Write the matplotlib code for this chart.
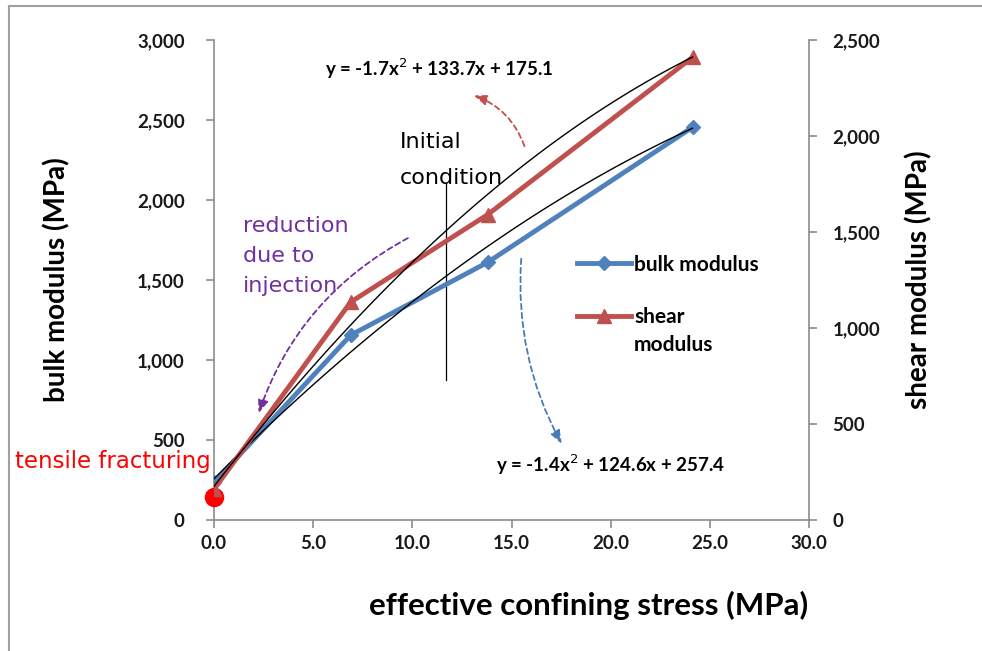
import numpy as np
import matplotlib
matplotlib.use("Agg")
from matplotlib import pyplot as plt
from matplotlib.lines import Line2D
from matplotlib.ticker import FuncFormatter

plt.rcParams["font.family"] = ["Lato", "DejaVu Sans"]

# data
stress = [0.0, 6.89, 13.79, 24.13]          # MPa
bulk = [235, 1155, 1610, 2455]              # MPa, left axis
shear = [160, 1135, 1590, 2410]             # MPa, right axis
bulk_fit = [-1.4, 124.6, 257.4]             # trendline coefficients
shear_fit = [-1.7, 133.7, 175.1]
frac_point = [0.0, 143]                     # tensile fracturing marker (left axis)

blue = "#4F81BD"
red = "#C0504D"
purple = "#7030A0"
gray = "#8C8C8C"
note_font = "DejaVu Sans"

fig = plt.figure(figsize=(9.82, 6.51), dpi=100)
ax = fig.add_axes([214/982, 1 - 520/651, 595/982, 480/651])
ax2 = ax.twinx()

# trendlines
xf = np.linspace(stress[0], stress[-1], 100)
ax.plot(xf, np.polyval(bulk_fit, xf), color="black", lw=1.0, zorder=4)
ax2.plot(xf, np.polyval(shear_fit, xf), color="black", lw=1.0, zorder=4)

# data series
ax.plot(stress, bulk, color=blue, lw=3.5, marker="D", ms=7, zorder=3)
ax2.plot(stress, shear, color=red, lw=3.5, marker="^", ms=10, zorder=3)
ax.plot(frac_point[0], frac_point[1], "o", color="red", ms=13, zorder=6, clip_on=False)

ax.set_xlim(0, 30)
ax.set_ylim(0, 3000)
ax2.set_ylim(0, 2500)
ax.set_xticks(np.arange(0, 31, 5))
ax.set_yticks(np.arange(0, 3001, 500))
ax2.set_yticks(np.arange(0, 2501, 500))
ax.xaxis.set_major_formatter(FuncFormatter(lambda v, p: f"{v:.1f}"))
ax.yaxis.set_major_formatter(FuncFormatter(lambda v, p: f"{v:,.0f}"))
ax2.yaxis.set_major_formatter(FuncFormatter(lambda v, p: f"{v:,.0f}"))

for a in (ax, ax2):
    a.spines["top"].set_visible(False)
    for s in ("left", "right", "bottom"):
        a.spines[s].set_color(gray)
        a.spines[s].set_linewidth(1.2)
    a.tick_params(colors=gray, length=6, width=1.2, labelsize=13.5, labelcolor="#1a1a1a")
    for lab in a.get_xticklabels() + a.get_yticklabels():
        lab.set_fontweight("bold")
ax.spines["right"].set_visible(False)
ax2.spines["left"].set_visible(False)
ax2.spines["bottom"].set_visible(False)
ax.tick_params(axis="x", pad=5)
ax.tick_params(axis="y", pad=15)
ax2.tick_params(axis="y", pad=11)

ax.set_ylabel("bulk modulus (MPa)", fontsize=20, fontweight="bold", labelpad=48)
ax2.set_ylabel("shear modulus (MPa)", fontsize=20, fontweight="bold", labelpad=18)
ax.set_xlabel("effective confining stress (MPa)", fontsize=22.5, fontweight="bold")
ax.xaxis.set_label_coords(0.63, -0.148)

# equations
ax.text(5.6, 2820, "y = -1.7x$^2$ + 133.7x + 175.1", fontsize=13.5, fontweight="bold",
        va="center")
ax.text(14.2, 345, "y = -1.4x$^2$ + 124.6x + 257.4", fontsize=13.5, fontweight="bold",
        va="center")

# annotations
ax.text(-0.15, 365, "tensile fracturing", color="red", fontsize=16.5, ha="right",
        va="center", family=note_font)
ax.text(1.45, 1650, "reduction\ndue to\ninjection", color=purple, fontsize=16,
        va="center", linespacing=1.6, family=note_font)
ax.text(9.35, 2250, "Initial\ncondition", color="black", fontsize=16, va="center",
        linespacing=1.95, family=note_font)
ax.plot([11.7, 11.7], [875, 2105], color="black", lw=0.9)

ax.annotate("", xy=(2.2, 650), xytext=(9.9, 1770),
            arrowprops=dict(arrowstyle="-|>,head_length=0.8,head_width=0.3", color=purple,
                            lw=1.3, linestyle=(0, (3, 2)), connectionstyle="arc3,rad=0.2"))
ax.annotate("", xy=(12.95, 2660), xytext=(15.7, 2320),
            arrowprops=dict(arrowstyle="-|>,head_length=0.8,head_width=0.3", color=red,
                            lw=1.3, linestyle=(0, (3, 2)), connectionstyle="arc3,rad=0.25"))
ax.annotate("", xy=(17.6, 460), xytext=(15.5, 1650),
            arrowprops=dict(arrowstyle="-|>,head_length=0.8,head_width=0.3", color="#4A7BB7",
                            lw=1.3, linestyle=(0, (3, 2)), connectionstyle="arc3,rad=0.15"))

# legend: second label wraps onto a line below its handle
handles = [Line2D([], [], color=blue, lw=3.5, marker="D", ms=7, label="bulk modulus"),
           Line2D([], [], color=red, lw=3.5, marker="^", ms=10, label="shear")]
leg = fig.legend(handles=handles, loc="upper left", bbox_to_anchor=(558/982, 1 - 236/651),
                 frameon=False, handlelength=2.6, handletextpad=0.15, labelspacing=1.55,
                 prop={"size": 15, "weight": "bold"})
fig.canvas.draw()
x0 = leg.get_texts()[0].get_window_extent().x0 / fig.bbox.width
fig.text(x0, 1 - 345/651, "modulus", fontsize=15, fontweight="bold", va="center")

# outer frame (left and top edges visible)
fig.add_artist(Line2D([9/982, 9/982], [0, 1 - 6/651], color="#A0A0A0", lw=1.5))
fig.add_artist(Line2D([9/982, 1], [1 - 6/651, 1 - 6/651], color="#A0A0A0", lw=1.5))

fig.savefig("out.png", dpi=100)
